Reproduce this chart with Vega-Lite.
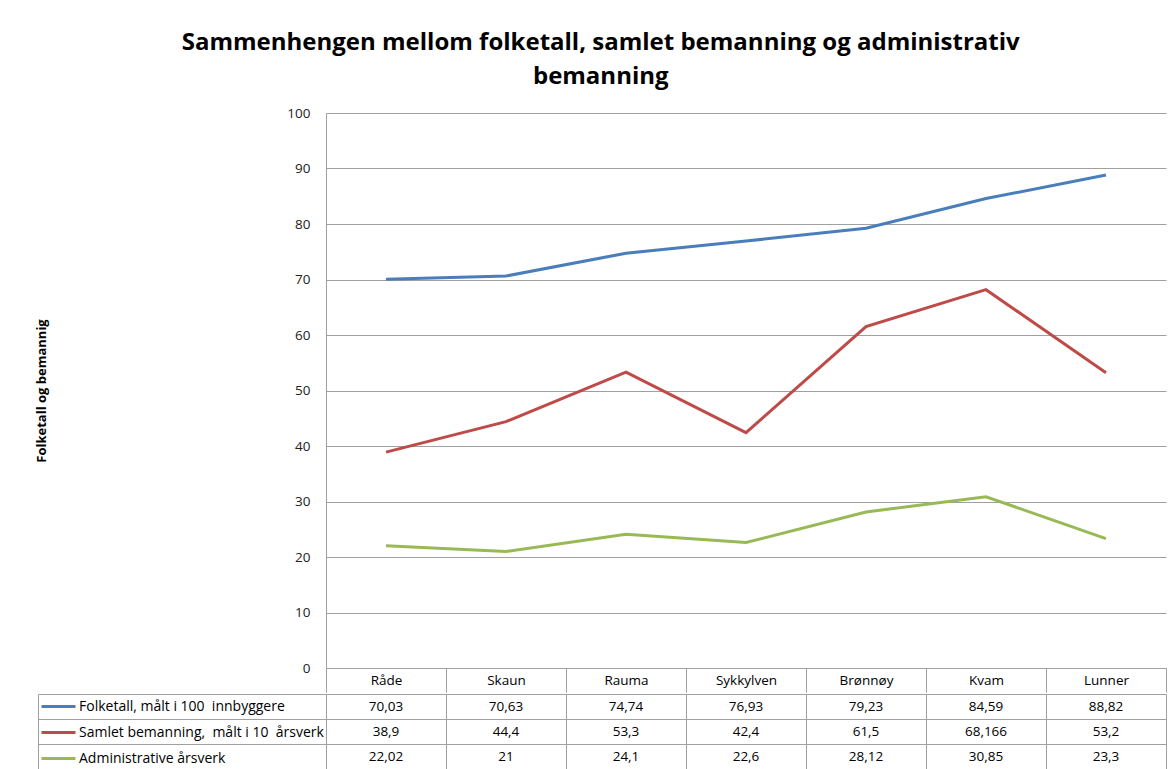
{
  "$schema": "https://vega.github.io/schema/vega-lite/v6.json",
  "padding": {"left": 35, "top": 31, "right": 2, "bottom": 0},
  "background": "white",
  "title": {
    "text": ["Sammenhengen mellom folketall, samlet bemanning og administrativ", "bemanning"],
    "font": "Open Sans",
    "fontSize": 24,
    "fontWeight": "bold",
    "color": "#000000",
    "lineHeight": 34,
    "anchor": "middle",
    "offset": 17
  },
  "datasets": {
    "tabell": [
      {"kommune": "Råde", "serie": "Folketall, målt i 100 \u00a0innbyggere", "verdi": 70.03},
      {"kommune": "Skaun", "serie": "Folketall, målt i 100 \u00a0innbyggere", "verdi": 70.63},
      {"kommune": "Rauma", "serie": "Folketall, målt i 100 \u00a0innbyggere", "verdi": 74.74},
      {"kommune": "Sykkylven", "serie": "Folketall, målt i 100 \u00a0innbyggere", "verdi": 76.93},
      {"kommune": "Brønnøy", "serie": "Folketall, målt i 100 \u00a0innbyggere", "verdi": 79.23},
      {"kommune": "Kvam", "serie": "Folketall, målt i 100 \u00a0innbyggere", "verdi": 84.59},
      {"kommune": "Lunner", "serie": "Folketall, målt i 100 \u00a0innbyggere", "verdi": 88.82},
      {"kommune": "Råde", "serie": "Samlet bemanning, \u00a0målt i 10 \u00a0årsverk", "verdi": 38.9},
      {"kommune": "Skaun", "serie": "Samlet bemanning, \u00a0målt i 10 \u00a0årsverk", "verdi": 44.4},
      {"kommune": "Rauma", "serie": "Samlet bemanning, \u00a0målt i 10 \u00a0årsverk", "verdi": 53.3},
      {"kommune": "Sykkylven", "serie": "Samlet bemanning, \u00a0målt i 10 \u00a0årsverk", "verdi": 42.4},
      {"kommune": "Brønnøy", "serie": "Samlet bemanning, \u00a0målt i 10 \u00a0årsverk", "verdi": 61.5},
      {"kommune": "Kvam", "serie": "Samlet bemanning, \u00a0målt i 10 \u00a0årsverk", "verdi": 68.166},
      {"kommune": "Lunner", "serie": "Samlet bemanning, \u00a0målt i 10 \u00a0årsverk", "verdi": 53.2},
      {"kommune": "Råde", "serie": "Administrative årsverk", "verdi": 22.02},
      {"kommune": "Skaun", "serie": "Administrative årsverk", "verdi": 21},
      {"kommune": "Rauma", "serie": "Administrative årsverk", "verdi": 24.1},
      {"kommune": "Sykkylven", "serie": "Administrative årsverk", "verdi": 22.6},
      {"kommune": "Brønnøy", "serie": "Administrative årsverk", "verdi": 28.12},
      {"kommune": "Kvam", "serie": "Administrative årsverk", "verdi": 30.85},
      {"kommune": "Lunner", "serie": "Administrative årsverk", "verdi": 23.3}
    ]
  },
  "config": {
    "locale": {"number": {"decimal": ",", "thousands": " ", "grouping": [3], "currency": ["", " kr"]}},
    "font": "Open Sans",
    "view": {"stroke": null}
  },
  "spacing": 0,
  "vconcat": [
    {
      "width": 840,
      "height": 555,
      "data": {"name": "tabell"},
      "mark": {"type": "line", "strokeWidth": 3},
      "encoding": {
        "x": {
          "field": "kommune",
          "type": "nominal",
          "sort": null,
          "bandPosition": 0.5,
          "scale": {"type": "band", "paddingInner": 0, "paddingOuter": 0},
          "axis": {
            "title": null,
            "labelAngle": 0,
            "labelFont": "Open Sans",
            "labelFontSize": 13.5,
            "labelColor": "#000000",
            "labelBaseline": "middle",
            "labelPadding": -12,
            "tickBand": "extent",
            "tickSize": 24,
            "tickColor": "#a0a0a0",
            "domainColor": "#a0a0a0",
            "grid": false
          }
        },
        "y": {
          "field": "verdi",
          "type": "quantitative",
          "scale": {"domain": [0, 100], "nice": false},
          "axis": {
            "title": "Folketall og bemannig",
            "titleFont": "Open Sans",
            "titleFontSize": 13,
            "titleFontWeight": "bold",
            "titleColor": "#000000",
            "titleX": -285,
            "titleBaseline": "middle",
            "values": [0, 10, 20, 30, 40, 50, 60, 70, 80, 90, 100],
            "labelFont": "Open Sans",
            "labelFontSize": 13.5,
            "labelColor": "#222222",
            "labelPadding": 16,
            "ticks": false,
            "domainColor": "#a0a0a0",
            "gridColor": "#a0a0a0",
            "gridOpacity": 1
          }
        },
        "color": {
          "field": "serie",
          "type": "nominal",
          "scale": {
            "domain": ["Folketall, målt i 100 \u00a0innbyggere", "Samlet bemanning, \u00a0målt i 10 \u00a0årsverk", "Administrative årsverk"],
            "range": ["#4a7ebb", "#be4b48", "#98b954"]
          },
          "legend": {
            "orient": "none",
            "legendX": -286,
            "legendY": 575,
            "title": null,
            "padding": 0,
            "symbolType": "stroke",
            "symbolSize": 1156,
            "symbolStrokeWidth": 3,
            "labelFont": "Open Sans",
            "labelFontSize": 14,
            "labelColor": "#000000",
            "labelLimit": 300,
            "rowPadding": -9,
            "labelOffset": 2
          }
        }
      }
    },
    {
      "width": 840,
      "height": 75,
      "data": {"name": "tabell"},
      "mark": {"type": "text", "font": "Open Sans", "fontSize": 13.5, "color": "#000000"},
      "encoding": {
        "x": {
          "field": "kommune",
          "type": "nominal",
          "sort": null,
          "scale": {"type": "band", "paddingInner": 0, "paddingOuter": 0},
          "axis": {
            "title": null,
            "labels": false,
            "ticks": false,
            "domain": false,
            "grid": true,
            "gridColor": "#a0a0a0",
            "gridOpacity": 1,
            "tickBand": "extent"
          }
        },
        "y": {
          "field": "serie",
          "type": "nominal",
          "sort": ["Folketall, målt i 100 \u00a0innbyggere", "Samlet bemanning, \u00a0målt i 10 \u00a0årsverk", "Administrative årsverk"],
          "scale": {"type": "band", "paddingInner": 0, "paddingOuter": 0},
          "axis": {
            "title": null,
            "labels": false,
            "offset": 288,
            "tickBand": "extent",
            "tickSize": -288,
            "tickColor": "#a0a0a0",
            "domainColor": "#a0a0a0",
            "grid": true,
            "gridColor": "#a0a0a0",
            "gridOpacity": 1
          }
        },
        "text": {"field": "verdi", "type": "quantitative", "format": "~g"}
      }
    }
  ]
}
